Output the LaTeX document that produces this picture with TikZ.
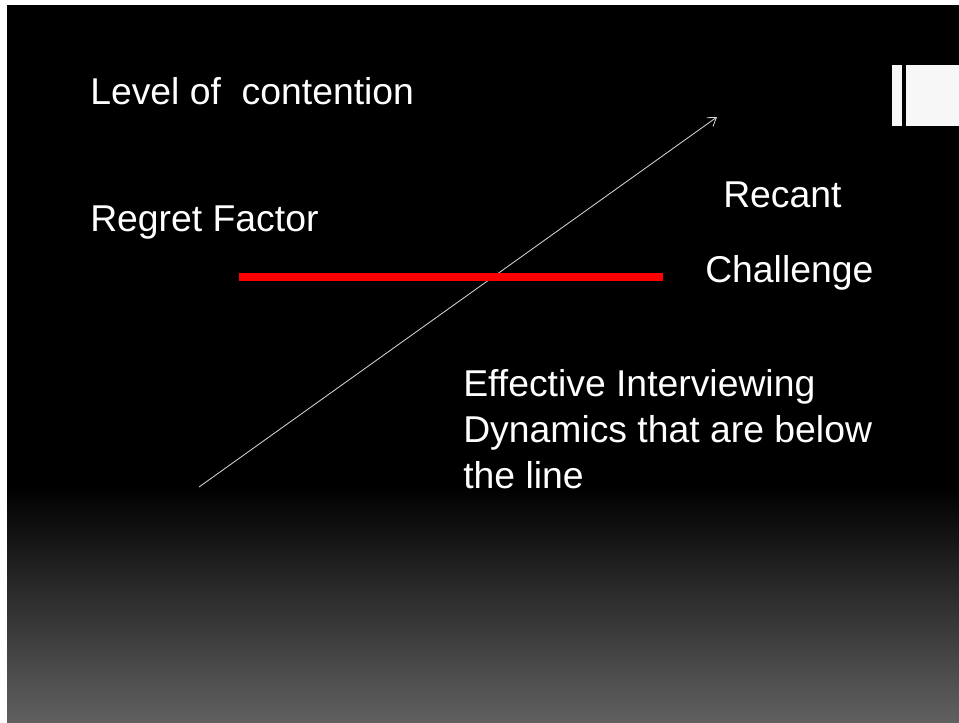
\documentclass[tikz,border=0pt]{standalone}
\usepackage{fontspec}
\setmainfont{Liberation Sans}
\usetikzlibrary{arrows.meta}
\definecolor{Floor}{HTML}{606060}
\definecolor{TabWhite}{HTML}{F7F7F7}
\definecolor{Signal}{HTML}{FF0000}
\definecolor{Axis}{HTML}{D9D9D9}
\tikzset{
 caption/.style={anchor=base west, inner sep=0pt, text=white, align=left, font=\fontsize{28}{34.5}\selectfont},
 thinarrow/.style={-{Straight Barb[length=6pt,width=8pt]}, draw=Axis, line width=0.6pt},
 redbar/.style={draw=Signal, line width=6pt}
}
\begin{document}
\begin{tikzpicture}[x=0.75pt,y=-0.75pt]
\useasboundingbox (0,0) rectangle (959,722);
\fill[white] (0,0) rectangle (959,722);
\fill[black] (7,5) rectangle (959,722);
\shade[top color=black, bottom color=Floor] (7,487) rectangle (959,722);
% tab in the corner
\fill[TabWhite] (892,65) rectangle (902,126);
\fill[TabWhite] (906,65) rectangle (959,126);
% labels
\node[caption] (contention) at (90,104) {Level of\ \ contention};
\node[caption] (regret) at (90,231) {Regret Factor};
\node[caption] (recant) at (723,207) {Recant};
\node[caption] (challenge) at (705,282) {Challenge};
\node[caption] (dynamics) at (463,488) {Effective Interviewing\\Dynamics that are below\\the line};
% axis and red line
\coordinate (axis start) at (199,487);
\coordinate (axis tip) at (717,117);
\draw[thinarrow] (axis start) -- (axis tip);
\coordinate (bar left) at (239,277);
\coordinate (bar right) at (663,277);
\draw[redbar] (bar left) -- (bar right);
\end{tikzpicture}
\end{document}
